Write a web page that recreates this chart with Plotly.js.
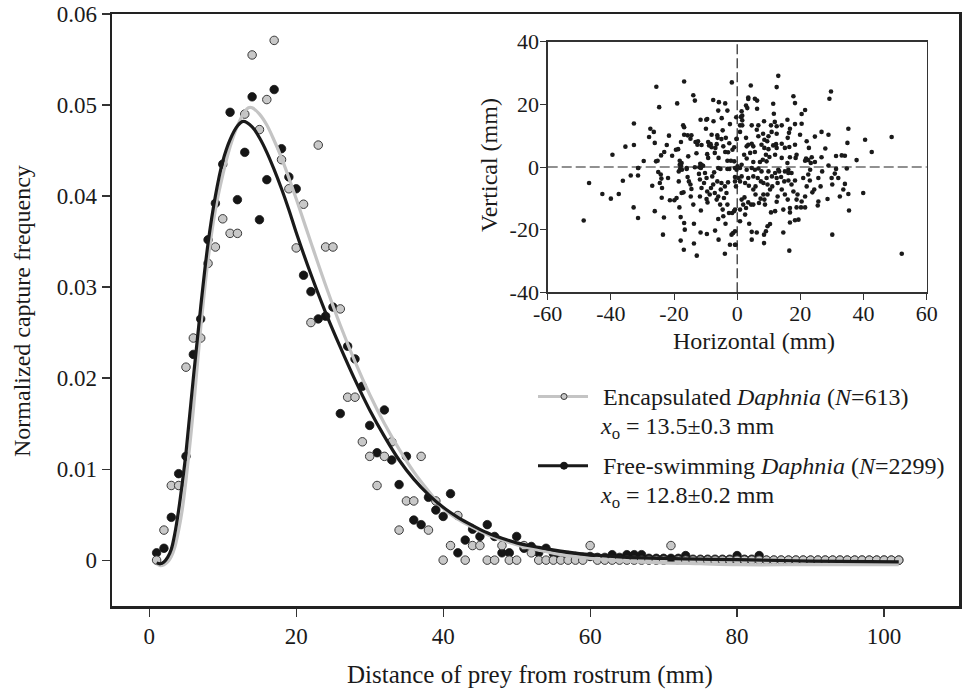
<!DOCTYPE html>
<html><head><meta charset="utf-8">
<script src="https://cdn.plot.ly/plotly-3.0.1.min.js"></script>
<style>html,body{margin:0;padding:0;background:#fff}#chart{width:966px;height:690px}</style>
</head><body><div id="chart"></div>
<script>
// ---- main panel: capture frequency vs distance ----
const distance = [1,2,3,4,5,6,7,8,9,10,11,12,13,14,15,16,17,18,19,20,21,22,23,24,25,26,27,28,29,30,31,32,33,34,35,36,37,38,39,40,41,42,43,44,45,46,47,48,49,50,51,52,53,54,55,56,57,58,59,60,61,62,63,64,65,66,67,68,69,70,71,72,73,74,75,76,77,78,79,80,81,82,83,84,85,86,87,88,89,90,91,92,93,94,95,96,97,98,99,100,101,102];
const encapsulated = [0,0.0033,0.0082,0.0082,0.0212,0.0244,0.0244,0.0326,0.0344,0.0375,0.0359,0.0359,0.0490,0.0555,0.0473,0.0506,0.0571,0.0440,0.0408,0.0343,0.0391,0.0261,0.0456,0.0344,0.0344,0.0276,0.0179,0.0179,0.0130,0.0114,0.0082,0.0114,0.0130,0.0033,0.0065,0.0065,0.0114,0.0033,0.0065,0,0.0016,0.0049,0,0.0016,0.0016,0,0,0.0016,0,0,0.0016,0.0008,0,0,0,0,0,0,0,0.0016,0,0,0,0,0,0,0,0,0,0,0.0016,0,0,0,0,0,0,0,0,0,0,0,0,0,0,0,0,0,0,0,0,0,0,0,0,0,0,0,0,0,0,0];
const freeSwimming = [0.0008,0.0013,0.0047,0.0095,0.0114,0.0226,0.0265,0.0352,0.0392,0.0435,0.0492,0.0396,0.0448,0.0509,0.0374,0.0418,0.0517,0.0452,0.0421,0.0408,0.0313,0.0295,0.0265,0.0268,0.0278,0.0161,0.0235,0.0221,0.0191,0.0148,0.0118,0.0165,0.0110,0.0083,0.0114,0.0044,0.0039,0.0069,0.0055,0.0048,0.0073,0.0008,0.0022,0.0034,0.0026,0.0039,0.0026,0.0008,0.0008,0.0026,0.0013,0.0015,0.0008,0.0013,0.0007,0.0005,0.0005,0.0004,0.0003,0.0004,0.0003,0.0003,0.0006,0.0003,0.0006,0.0006,0.0006,0.0002,0.0002,0.0002,0.0002,0.0002,0.0005,0.0001,0.0001,0.0001,0.0001,0.0001,0.0001,0.0005,0.0001,0.0001,0.0005,0,0,0,0,0,0,0,0,0,0,0,0,0,0,0,0,0,0,0];

// fitted curves
const fitFreeX = [1,1.5,2,2.5,3,3.5,4,4.5,5,6,7,8,9,10,11,12,12.8,14,15,16,17,18,19,20,22,24,26,28,30,32,34,36,38,40,42,44,46,48,50,53,56,60,65,70,75,80,90,102];
const fitFreeY = [-0.0003,-0.0004,-0.0002,0.0003,0.0012,0.0030,0.0055,0.0085,0.0118,0.0200,0.0278,0.0348,0.0400,0.0438,0.0462,0.0477,0.0482,0.0476,0.0464,0.0448,0.0429,0.0408,0.0385,0.0360,0.0314,0.0272,0.0234,0.0198,0.0165,0.0136,0.0110,0.0089,0.0072,0.0058,0.0047,0.0038,0.0030,0.0024,0.0019,0.0014,0.0010,0.0006,0.0003,0.0002,0.0001,0.00005,-0.0001,-0.0002];
const fitEncX = [1,1.5,2,2.5,3,3.5,4,4.5,5,5.5,6,7,8,9,10,11,12,13,13.5,14,15,16,17,18,19,20,21,22,24,26,28,30,32,34,36,38,40,42,44,46,48,50,53,56,60,65,70,75,80,90,102];
const fitEncY = [-0.0004,-0.0006,-0.0005,-0.0002,0.0004,0.0015,0.0033,0.0056,0.0088,0.0125,0.0165,0.0255,0.0330,0.0385,0.0423,0.0454,0.0477,0.0493,0.0497,0.0497,0.0490,0.0478,0.0461,0.0442,0.0420,0.0397,0.0373,0.0349,0.0302,0.0258,0.0218,0.0182,0.0150,0.0122,0.0097,0.0076,0.0057,0.0045,0.0036,0.0028,0.0022,0.0017,0.0011,0.0006,0.0002,-0.0001,-0.0003,-0.0004,-0.0005,-0.0005,-0.0005];

const xTicks = [0,20,40,60,80,100];
const xTickText = ['0','20','40','60','80','100'];
const yTicks = [0,0.01,0.02,0.03,0.04,0.05,0.06];
const yTickText = ['0','0.01','0.02','0.03','0.04','0.05','0.06'];

// ---- inset: strike positions ----
const insetX = [
-39.5,-35.4,-32.7,-32.7,-31.3,-29.6,-27.5,-27.9,-26.4,-26.1,-25.6,-24.7,-25.7,-25.2,-24.1,-23.1,-22.3,-21.6,-20.6,-19.0,-19.4,-18.7,-18.2,-17.6,-17.8,-17.8,-17.1,-16.8,-16.8,-16.8,-15.7,-15.5,-14.5,-14.8,-13.9,-13.4,-13.2,-12.6,-12.4,-12.9,-12.0,-11.7,-11.6,-11.3,-10.8,-9.8,-9.5,-9.9,-9.2,-9.5,-9.2,-8.9,-8.4,-8.1,-8.1,-7.6,-7.5,-7.1,-6.9,-6.5,-6.3,-6.2,-6.0,-5.9,-5.8,-5.0,-4.9,-4.6,-4.4,-3.8,-3.8,-3.6,-3.1,-3.1,-2.9,-2.5,-2.3,-2.0,-1.7,-1.5,-0.95,-0.95,-0.2,-0.3,
-18.0,-17.5,-16.0,-11.5,-6.0,-5.3,-3.1,-2.5,
13.0,12.5,4.3,3.5,3.5,5.6,6.3,6.3,2.8,3.2,1.4,1.6,1.2,1.6,0.9,1.6,4.6,6.7,8.5,11.4,11.6,10.7,11.9,12.5,14.1,15.9,17.8,18.3,20.4,21.5,20.4,18.3,16.7,16.4,16.0,12.5,10.9,9.9,8.2,6.2,6.7,8.6,9.5,0.9,-0.2,2.8,3.5,3.0,4.6,5.1,7.7,8.6,9.9,11.4,12.3,12.5,14.1,15.1,16.5,18.3,19.9,22.0,22.7,24.6,26.7,28.9,29.2,29.7,35.2,34.9,40.5,42.6,48.9,37.8,33.1,31.3,34.1,27.9,26.7,23.6,21.8,22.5,24.6,23.3,21.5,18.8,18.5,16.7,15.9,14.1,12.0,10.2,9.1,8.1,9.3,7.2,5.6,4.1,2.2,3.0,5.1,1.4,0.1,28.9,34.7,31.3,23.1,16.2,13.0,6.7,4.6,
-48.6,-46.9,-42.7,-40.0,-37.5,-36.2,-33.7,-31.4,-32.8,-31.4,-31.4,-26.9,-26.1,-25.0,-24.2,-24.0,-24.5,-23.8,-23.9,-23.2,-23.5,-21.9,-21.3,-19.9,-19.2,-18.5,-18.2,-18.5,-17.6,-18.3,-17.9,-17.0,-16.8,-16.6,-17.9,-16.9,-16.0,-15.7,-15.3,-14.8,-14.5,-14.7,-13.9,-13.7,-13.7,-12.8,-13.4,-12.1,-11.8,-11.3,-11.8,-11.5,-11.6,-11.3,-10.2,-10.5,-9.7,-9.5,-9.7,-9.4,-9.6,-8.7,-8.3,-7.9,-7.6,-7.3,-7.1,-7.0,-6.5,-6.3,-6.0,-6.0,-5.9,-5.4,-5.2,-5.0,-4.6,-4.4,-4.2,-3.9,-3.9,-3.7,-3.4,-3.1,-2.9,-2.6,-2.3,-1.8,-1.3,-1.6,-1.0,-0.7,-0.4,-0.5,-0.2,
52.1,30.1,16.5,35.4,39.9,35.2,32.5,34.1,33.6,29.9,30.9,32.0,30.1,28.6,25.7,25.5,26.4,25.7,26.9,24.4,23.8,23.0,22.5,22.0,21.5,20.9,20.4,21.5,20.2,19.4,18.3,16.7,18.8,18.8,19.1,17.8,17.2,18.3,16.2,16.7,16.7,14.6,14.6,16.0,15.1,14.1,12.8,12.5,12.0,10.7,10.4,9.6,9.1,8.5,8.5,6.2,4.6,4.6,3.8,0.9,2.5,2.8,1.9,0.9,1.4,2.3,3.5,4.4,5.1,5.8,6.9,7.4,8.3,8.6,8.8,9.6,10.4,11.1,9.6,8.3,7.5,5.8,5.1,3.7,2.5,0.9,0.4,1.4,3.5,5.1,6.5,9.3,11.0,12.5,13.9,14.9,12.8,12.0,13.3,15.1,16.2,17.2,9.9,7.7,5.6,3.0,0.9,-0.7,-0.7,-0.7,-0.7,-0.7
];
const insetY = [
3.9,6.5,7.0,13.9,-0.3,1.9,12.2,9.6,11.2,7.7,25.6,19.1,1.8,2.0,3.7,4.8,7.0,10.0,3.6,20.3,5.5,5.7,2.0,1.3,0.4,8.0,13.3,12.7,27.3,10.3,10.1,3.4,10.1,9.0,22.9,21.2,8.0,7.1,8.2,4.4,-0.1,1.0,15.1,7.0,0.4,15.1,15.3,12.2,8.0,4.1,2.9,6.9,7.3,6.3,10.3,21.4,14.6,4.5,6.1,7.3,10.1,9.3,18.0,2.9,20.7,8.9,15.6,11.7,6.6,20.3,4.8,9.3,2.0,18.0,4.7,7.6,13.7,2.0,27.0,5.5,6.3,1.8,8.9,15.9,
-0.4,-0.9,-0.6,-0.3,-0.3,-0.6,-0.6,-0.6,
29.1,25.5,26.0,22.2,21.7,21.8,21.2,18.6,19.6,18.8,17.8,16.4,16.0,14.9,13.3,13.3,13.3,13.3,14.6,20.2,17.0,13.3,14.4,13.0,13.3,15.1,22.6,20.4,16.9,18.2,13.8,13.7,12.2,10.9,9.3,10.6,11.2,9.8,10.6,11.9,9.8,8.7,8.2,11.2,9.0,9.3,7.1,6.6,7.4,6.6,7.1,6.1,5.7,6.9,7.3,6.1,7.4,6.1,6.4,7.1,10.3,8.2,6.1,9.7,11.2,10.3,21.8,24.1,12.2,7.7,8.7,4.8,9.6,2.2,3.7,3.5,3.6,5.9,3.1,3.1,2.7,2.2,1.6,1.3,2.0,3.9,2.9,3.1,1.3,2.9,3.9,3.2,3.9,2.3,1.8,1.6,4.8,4.5,3.9,2.7,1.6,0.7,0.2,0.5,-0.5,-0.6,-0.9,-0.9,-0.9,-0.5,-0.3,
-17.1,-5.1,-8.6,-10.1,-8.6,-4.4,-2.7,-2.7,-12.9,-16.3,-0.3,-6.0,-14.1,-1.6,-2.4,-3.7,-5.1,-6.7,-9.8,-16.1,-21.6,-3.5,-10.6,-10.6,-9.9,-1.4,0.7,-4.6,-8.3,-12.9,-16.0,-8.1,-17.9,-20.0,-23.5,-26.4,-0.3,-3.2,-4.6,-5.6,-7.0,-9.4,-12.0,-18.1,-24.4,-28.3,-0.1,-2.2,-4.0,-6.7,-9.4,-13.9,-20.9,0.7,-1.9,-5.1,-3.5,-7.8,-10.2,-11.3,-21.4,-8.8,-6.7,-3.0,-5.6,-1.7,-8.3,-20.3,-10.4,-4.6,-9.4,-16.6,-23.2,-12.0,-7.2,-5.1,-13.6,-15.7,-9.9,-6.2,-27.7,-18.1,-8.3,-12.0,-4.9,-14.7,-24.8,-21.6,-21.1,-14.7,-14.1,-3.2,-6.2,-24.8,-0.9,
-27.7,-21.6,-26.7,-13.9,-8.3,-8.6,-9.4,-5.4,-7.2,-3.5,-2.1,-3.5,-5.6,-10.2,-11.0,-12.3,-6.2,-3.5,-1.4,-7.2,-8.1,-4.3,-2.4,-6.2,-9.4,-3.5,-11.0,-12.9,-12.9,-16.8,-17.0,-17.7,-12.9,-10.4,-8.8,-7.8,-5.6,-4.3,-4.3,-13.1,-14.5,-20.9,-13.6,-10.4,-8.8,-7.2,-9.4,-11.1,-14.1,-14.5,-18.2,-18.9,-20.5,-21.6,-24.3,-20.9,-20.7,-23.2,-18.1,-17.3,-15.2,-13.1,-12.0,-13.6,-10.4,-9.7,-11.3,-12.0,-12.0,-8.8,-11.5,-10.1,-8.8,-10.4,-12.0,-8.8,-7.2,-6.2,-5.6,-5.1,-4.6,-6.2,-7.2,-6.0,-5.1,-4.6,-3.5,-3.0,-3.5,-3.0,-3.5,-3.5,-3.0,-3.5,-3.2,-4.6,-5.1,-1.9,-1.4,-1.4,-1.9,-1.9,-1.4,-1.4,-0.9,-0.9,-0.3,-0.3,-4.6,-13.6,-20.5,-24.8
];
const insetTicksX = [-60,-40,-20,0,20,40,60];
const insetTicksXText = ['-60','-40','-20','0','20','40','60'];
const insetTicksY = [-40,-20,0,20,40];
const insetTicksYText = ['-40','-20','0','20','40'];

// ---- geometry helpers (pixel -> paper) ----
const W = 966, H = 690;
const M = {l: 112, r: 7, t: 14, b: 84};
const PW = W - M.l - M.r, PH = H - M.t - M.b;
const px = x => (x - M.l) / PW;
const py = y => (H - M.b - y) / PH;

const FONT = 'Liberation Serif, Times New Roman, serif';
const TXT = '#1a1a1a';

const traces = [
  {x: distance, y: freeSwimming, type: 'scatter', mode: 'markers', xaxis: 'x', yaxis: 'y',
   marker: {size: 8.5, color: '#151515', line: {color: '#151515', width: 0.8}}, showlegend: false, hoverinfo: 'skip'},
  {x: distance, y: encapsulated, type: 'scatter', mode: 'markers', xaxis: 'x', yaxis: 'y',
   marker: {size: 8.5, color: '#c8c8c8', line: {color: '#3a3a3a', width: 1}}, showlegend: false, hoverinfo: 'skip'},
  {x: fitEncX, y: fitEncY, type: 'scatter', mode: 'lines', line: {color: '#c4c4c4', width: 3.2, shape: 'spline', smoothing: 1},
   xaxis: 'x', yaxis: 'y', showlegend: false, hoverinfo: 'skip'},
  {x: fitFreeX, y: fitFreeY, type: 'scatter', mode: 'lines', line: {color: '#1a1a1a', width: 3.2, shape: 'spline', smoothing: 1},
   xaxis: 'x', yaxis: 'y', showlegend: false, hoverinfo: 'skip'},
  {x: insetX, y: insetY, type: 'scatter', mode: 'markers', xaxis: 'x2', yaxis: 'y2',
   marker: {size: 4.6, color: '#1a1a1a'}, showlegend: false, hoverinfo: 'skip'}
];

const legendLineL = 538, legendLineR = 588, legendMark = 564;
const leg1Y = 396.5, leg2Y = 465.7, lineGap = 31;

const shapes = [
  // inset reference lines
  {type: 'line', xref: 'x2', yref: 'y2 domain', x0: 0, x1: 0, y0: 0, y1: 1, line: {color: '#222', width: 1.2, dash: '10px,4px'}},
  {type: 'line', xref: 'x2 domain', yref: 'y2', x0: 0, x1: 1, y0: 0, y1: 0, line: {color: '#222', width: 1.2, dash: '10px,4px'}},
  // legend samples
  {type: 'line', xref: 'paper', yref: 'paper', x0: px(legendLineL), x1: px(legendLineR), y0: py(leg1Y), y1: py(leg1Y), line: {color: '#c4c4c4', width: 3}},
  {type: 'circle', xref: 'paper', yref: 'paper', xsizemode: 'pixel', ysizemode: 'pixel', xanchor: px(legendMark), yanchor: py(leg1Y),
   x0: -3, x1: 3, y0: -3, y1: 3, fillcolor: '#c8c8c8', line: {color: '#3a3a3a', width: 1}},
  {type: 'line', xref: 'paper', yref: 'paper', x0: px(legendLineL), x1: px(legendLineR), y0: py(leg2Y), y1: py(leg2Y), line: {color: '#1a1a1a', width: 3}},
  {type: 'circle', xref: 'paper', yref: 'paper', xsizemode: 'pixel', ysizemode: 'pixel', xanchor: px(legendMark), yanchor: py(leg2Y),
   x0: -3.5, x1: 3.5, y0: -3.5, y1: 3.5, fillcolor: '#151515', line: {color: '#151515', width: 1}}
];

const ann = (text, x, y, size, opts) => Object.assign({text, xref: 'paper', yref: 'paper', x: px(x), y: py(y),
  showarrow: false, font: {family: FONT, size: size, color: TXT}, xanchor: 'center', yanchor: 'middle'}, opts || {});

const annotations = [
  ann('Distance of prey from rostrum (mm)', 530, 675, 25),
  ann('Normalized capture frequency', 22, 311, 24, {textangle: -90}),
  ann('Horizontal (mm)', 754, 341, 24),
  ann('Vertical (mm)', 489, 165, 24, {textangle: -90}),
  ann('Encapsulated <i>Daphnia</i> (<i>N</i>=613)', 601, leg1Y, 24, {xanchor: 'left'}),
  ann('<i>x</i><sub>o</sub> = 13.5±0.3 mm', 598, leg1Y + lineGap, 24, {xanchor: 'left'}),
  ann('Free-swimming <i>Daphnia</i> (<i>N</i>=2299)', 601, leg2Y, 24, {xanchor: 'left'}),
  ann('<i>x</i><sub>o</sub> = 12.8±0.2 mm', 598, leg2Y + lineGap, 24, {xanchor: 'left'})
];

const axisBase = {showgrid: false, zeroline: false, ticks: 'outside', tickcolor: '#333', showline: true, mirror: true};

const layout = {
  width: W, height: H, margin: M, paper_bgcolor: '#fff', plot_bgcolor: 'rgba(0,0,0,0)',
  font: {family: FONT, color: TXT},
  showlegend: false,
  xaxis: Object.assign({}, axisBase, {domain: [0, 1], range: [-5.07, 110.2], tickvals: xTicks, ticktext: xTickText,
    ticklen: 8, tickwidth: 1.2, linewidth: 2.5, linecolor: '#222', tickfont: {family: FONT, size: 23, color: TXT}, anchor: 'y'}),
  yaxis: Object.assign({}, axisBase, {domain: [0, 1], range: [-0.00504, 0.06], tickvals: yTicks, ticktext: yTickText,
    ticklen: 8, tickwidth: 1.2, linewidth: 2.5, linecolor: '#222', tickfont: {family: FONT, size: 23, color: TXT}, anchor: 'x'}),
  xaxis2: Object.assign({}, axisBase, {domain: [px(547.7), px(926.7)], range: [-60, 60], tickvals: insetTicksX, ticktext: insetTicksXText,
    ticklen: 6, tickwidth: 1, linewidth: 1.4, linecolor: '#333', tickfont: {family: FONT, size: 22, color: TXT}, anchor: 'y2',
    ticklabelstandoff: -5}),
  yaxis2: Object.assign({}, axisBase, {domain: [py(292.3), py(41.7)], range: [-40, 40], tickvals: insetTicksY, ticktext: insetTicksYText,
    ticklen: 6, tickwidth: 1, linewidth: 1.4, linecolor: '#333', tickfont: {family: FONT, size: 22, color: TXT}, anchor: 'x2',
    ticklabelstandoff: -3}),
  shapes, annotations
};

Plotly.newPlot('chart', traces, layout, {staticPlot: true, displayModeBar: false});
</script>
</body></html>
